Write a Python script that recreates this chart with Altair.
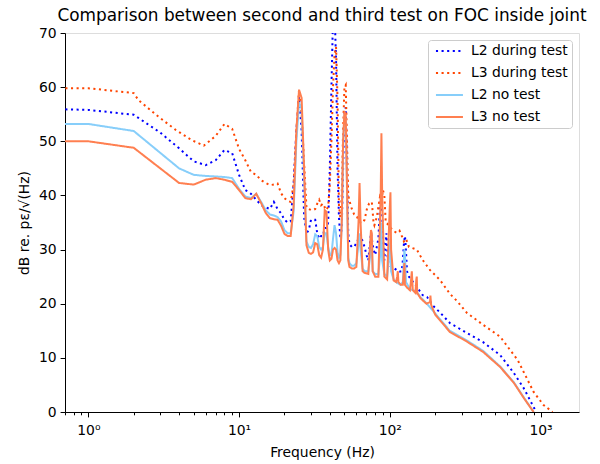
import altair as alt
import pandas as pd

# ---- data ----
series_names = ["L2 during test", "L3 during test", "L2 no test", "L3 no test"]
series_colors = ["#0000ff", "#ff4500", "#87cefa", "#ff7f50"]

l2_test_freq = [0.5, 1, 2, 3, 4, 5, 6, 7, 8, 9, 10, 11, 12, 13, 14, 15, 16, 17, 18, 19, 20, 21, 22, 23, 24, 25, 26, 27,
                28, 29, 30, 31, 32, 33, 34, 35, 36, 37, 38, 39, 40, 41, 42, 43, 44, 45, 46, 47, 48, 49, 50, 51, 52, 53,
                54, 56, 58, 60, 62, 64, 66, 68, 70, 72, 75, 78, 80, 84, 86, 87, 88, 89, 90, 92, 95, 97, 100, 104, 110,
                115, 120, 122, 124, 126, 127, 129, 130, 134, 140, 151, 165, 177, 194, 215, 251, 325, 416, 540, 665,
                774, 900, 940]
l2_test_db = [56, 55.8, 54.9, 51.6, 48.7, 46.3, 45.6, 46.5, 48.4, 47.8, 43.8, 41, 40.3, 39.2, 38.2, 37.8, 37.5, 38.8,
              37.5, 36.7, 35.5, 35, 35.2, 42, 52, 58.2, 52, 36, 33, 33.6, 35.5, 35.5, 35.5, 33, 32, 32.5, 32.5, 34, 34,
              35, 45, 60, 73, 74, 65, 45, 36, 32, 34, 45, 55, 56.3, 45, 33, 31, 30.5, 30.5, 31.2, 32, 32.7, 31.5, 30.5,
              29, 28, 33, 30, 29, 32, 38, 39.5, 39.5, 37, 33, 28, 33, 28, 27, 26.8, 26.3, 25.9, 26, 28, 31, 32.5, 31.5,
              28, 26, 25, 24.3, 23.1, 21.6, 21.2, 19.6, 18.4, 16.4, 14.6, 12.9, 10.5, 7.2, 4.4, 0.9, 0]

l3_test_freq = [0.5, 1, 2, 2.15, 2.93, 3.8, 4.86, 5.84, 7, 8, 9, 10, 11, 12, 13, 14, 15, 16, 17, 18, 19, 20, 21, 22, 23,
                24, 25, 26, 27, 28, 29, 30, 31, 32, 33, 34, 35, 36, 37, 38, 39, 40, 41, 42, 43, 44, 45, 46, 47, 48, 49,
                50, 51, 52, 53, 54, 56, 58, 60, 62, 64, 66, 68, 71, 73, 76, 78, 79, 82, 86, 88, 90, 92, 94, 96, 100,
                105, 111, 116, 121, 124, 128, 134, 151, 165, 185, 215, 251, 279, 325, 416, 540, 705, 900, 1047, 1202]
l3_test_db = [59.8, 59.8, 58.9, 57.6, 54.5, 52.1, 50.2, 49.2, 51, 53.2, 52.3, 48.6, 46.5, 44.3, 43.8, 42.8, 42.3, 41.9,
              42, 42.2, 40.4, 39.5, 39, 38.8, 42, 52, 59.5, 55, 46, 37.7, 37.5, 37.3, 37.3, 37.5, 38.5, 39.2, 38.2, 38.5,
              37.8, 37.3, 38, 42, 50, 60, 66, 67.4, 58, 38, 36, 40, 52, 60, 60.4, 50, 40, 39, 37.5, 36.5, 36.3, 35.5,
              35, 34.9, 35.5, 37.9, 38.5, 38.8, 35, 34.5, 36, 39.7, 39, 41, 40, 35, 34.8, 34.2, 33.5, 33.1, 33.5, 32.3,
              31.5, 32, 30.5, 30, 28.1, 26.2, 24.4, 21.8, 20.5, 18.3, 16.1, 13.9, 9.6, 3.7, 1.3, 0]

l2_no_freq = [0.5, 1, 2, 4, 5, 6, 7, 8, 9, 10, 11, 12, 13, 14, 15, 16, 17, 18, 19, 20, 21, 22, 23, 24, 25, 26, 27, 28,
              29, 30, 31, 32, 33, 34, 35, 36, 37, 38, 39, 40, 41, 42, 43, 44, 45, 46, 47, 48, 49, 50, 51, 52, 53, 54,
              56, 58, 60, 62, 63, 64, 66, 68, 72, 75, 76, 77, 80, 84, 87, 88, 89, 92, 96, 100, 101, 102, 106, 110, 118,
              122, 124, 125, 126, 128, 136, 150, 160, 175, 200, 250, 325, 416, 540, 665, 774, 900]
l2_no_db = [53.2, 53.2, 51.9, 45, 43.8, 43.6, 43.5, 43.4, 43.2, 41.2, 39.8, 39.5, 40.3, 38.8, 37.3, 36.5, 36.3, 36,
            35.2, 33.6, 33, 33, 37, 50, 57.2, 56, 43, 31.5, 30.5, 30.3, 31, 32.8, 32.5, 30.5, 30, 30.5, 33, 33, 30.5,
            29, 29, 32, 34.5, 33, 29.5, 28.5, 29, 35, 49, 55, 54, 41, 28.5, 27.5, 27, 27, 27.5, 31, 33, 30, 26.5, 26,
            26, 30, 30, 26, 25.5, 25.5, 30, 35, 28, 25.5, 25, 30, 32, 26, 24.5, 24, 23.5, 24, 28, 30, 29, 24, 22.7,
            22.3, 21.2, 20.1, 18.2, 15, 13.2, 11.3, 8.4, 5.5, 2.7, 0]

l3_no_freq = [0.5, 1, 2, 4, 5, 6, 7, 8, 9, 10, 11, 12, 13, 14, 15, 16, 17, 18, 19, 20, 21, 22, 23, 24, 25, 26, 27, 28,
              29, 30, 31, 32, 33, 34, 35, 36, 37, 38, 39, 40, 41, 42, 43, 44, 45, 46, 47, 48, 49, 50, 51, 52, 53, 54,
              56, 58, 60, 62, 63, 64, 66, 68, 72, 75, 76, 77, 80, 84, 87, 88, 89, 92, 96, 100, 101, 102, 106, 110, 112,
              113, 114, 118, 122, 124, 125, 126, 130, 136, 138, 140, 142, 148, 150, 151, 152, 160, 175, 185, 186, 188,
              200, 250, 325, 416, 540, 665, 774, 900]
l3_no_db = [50, 50, 48.8, 42.3, 42, 42.9, 43.2, 42.9, 42.5, 41, 39.5, 39.3, 40.3, 38.6, 36.8, 35.8, 35.6, 35.5, 34.4,
            32.9, 32.5, 32.5, 38, 52, 59.5, 58, 45, 30.8, 29.4, 29.2, 29.5, 31.2, 31, 29, 28.5, 30, 37.3, 37, 30, 28,
            28.3, 30, 30.3, 30, 28, 27.5, 28, 35, 50, 55.5, 55, 42, 28, 26.8, 26.5, 26.5, 26.8, 35, 42.3, 35, 26, 25.7,
            25.5, 33.6, 33, 26, 25, 25, 40, 51.5, 40, 25, 24.5, 38, 40.6, 30, 24.3, 24, 25, 26, 24, 23.5, 23.5, 26,
            27.5, 23.5, 23, 22.5, 24, 26, 22.5, 22, 24.5, 25, 22, 21, 20, 20.3, 21.5, 19.8, 18, 14.8, 13, 11.1, 8.3,
            5.4, 2.6, 0]

x_ticks = [0.7, 0.8, 0.9, 1, 2, 3, 4, 5, 6, 7, 8, 9, 10, 20, 30, 40, 50, 60, 70, 80, 90,
           100, 200, 300, 400, 500, 600, 700, 800, 900, 1000]
y_ticks = [0, 10, 20, 30, 40, 50, 60, 70]

frames = []
for name, f, v in [(series_names[0], l2_test_freq, l2_test_db),
                   (series_names[1], l3_test_freq, l3_test_db),
                   (series_names[2], l2_no_freq, l2_no_db),
                   (series_names[3], l3_no_freq, l3_no_db)]:
    frames.append(pd.DataFrame({"freq": f, "db": v, "series": name}))
df = pd.concat(frames, ignore_index=True)

FONT = "DejaVu Sans"
FS = 13.9

major_test = "datum.value == 1 || datum.value == 10 || datum.value == 100 || datum.value == 1000"
label_expr = ("datum.value == 1 ? '10⁰' : datum.value == 10 ? '10¹' : "
              "datum.value == 100 ? '10²' : datum.value == 1000 ? '10³' : ''")

x_enc = alt.X("freq:Q",
              scale=alt.Scale(type="log", domain=[0.7, 1800], nice=False),
              axis=alt.Axis(values=x_ticks, labelExpr=label_expr, title="Frequency (Hz)",
                            tickSize={"condition": {"test": major_test, "value": 4.9}, "value": 2.8},
                            labelOverlap=False, labelFlush=False, grid=False,
                            labelFontSize=FS, titleFontSize=FS, titleFontWeight="normal",
                            labelPadding=7, titlePadding=8, domainColor="black", tickColor="black",
                            labelColor="black", titleColor="black", labelFont=FONT, titleFont=FONT))
y_enc = alt.Y("db:Q",
              scale=alt.Scale(domain=[0, 70], nice=False, zero=False),
              axis=alt.Axis(values=y_ticks, title="dB re. pε/√(Hz)", grid=False, tickSize=4.9,
                            labelFontSize=FS, titleFontSize=FS, titleFontWeight="normal",
                            labelPadding=4, titlePadding=7, domainColor="black", tickColor="black",
                            labelColor="black", titleColor="black", labelFont=FONT, titleFont=FONT))
color_enc = alt.Color("series:N",
                      scale=alt.Scale(domain=series_names, range=series_colors),
                      legend=alt.Legend(title=None, orient="top-right", offset=7,
                                        symbolType="M-0.6,0L4.8,0", symbolSize=100, symbolStrokeWidth=2,
                                        labelFontSize=FS, labelFont=FONT, labelColor="black",
                                        labelExpr="datum.label + '\u00a0\u00a0\u00a0'",
                                        fillColor="white", strokeColor="#cccccc", cornerRadius=3,
                                        padding=4, rowPadding=7, labelOffset=25))
dash_enc = alt.StrokeDash("series:N",
                          scale=alt.Scale(domain=series_names,
                                          range=[[2.1, 3.5], [2.1, 3.5], [1, 0], [1, 0]]),
                          legend=None)

layers = []
for name in series_names:
    layers.append(
        alt.Chart(df).transform_filter(alt.datum.series == name)
        .mark_line(clip=True, strokeWidth=2, interpolate="linear")
        .encode(x=x_enc, y=y_enc, color=color_enc, strokeDash=dash_enc, order="freq:Q")
    )

chart = alt.layer(*layers).properties(
    width=514, height=379,
    title=alt.Title("Comparison between second and third test on FOC inside joint",
                    font=FONT, fontSize=16.9, fontWeight="normal", color="black", offset=1),
    padding={"left": 65, "top": 33, "right": 21, "bottom": 52},
    autosize=alt.AutoSizeParams(type="none"),
).configure_view(stroke="black", strokeWidth=1).configure(background="white")

chart.save("out.html", embed_options={"renderer": "svg", "actions": False})
